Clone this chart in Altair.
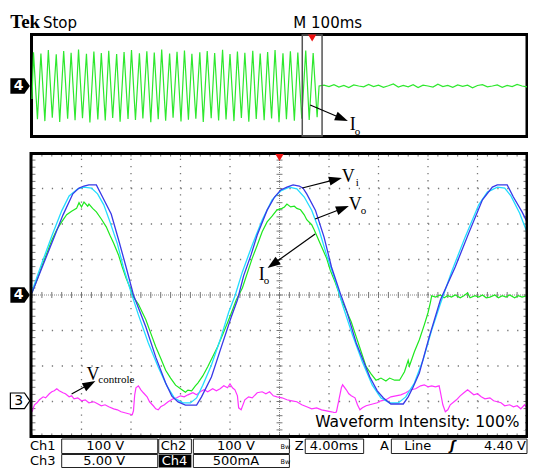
import math
import altair as alt
import pandas as pd
import numpy as np

# Main window: 4 ms/div. Ch1 = Vi, Ch2 = Vo (100 V/div), Ch3 = Vcontrole (5 V/div), Ch4 = Io (500 mA/div)
vi_t = [0.0,0.9,1.7,2.5,3.3,3.8,4.2,4.6,5.2,5.7,6.4,7.0,7.6,8.2,8.7,9.2,10.0,10.8,11.3,11.8,12.4,13.3,13.7,14.5,15.3,16.1,16.6,17.1,17.7,18.2,19.0,19.6,20.1,20.6,21.1,21.6,21.9,22.2,22.9,23.6,24.2,24.9,25.4,26.2,27.3,27.9,28.4,29.0,30.0,30.4,30.8,31.3,32.1,33.0,34.2,35.3,36.4,37.2,37.6,38.4,38.9,39.6,40.0]
vi_v = [6,85,155,225,285,301,307,310,310,276,228,155,79,0,-45,-90,-175,-248,-285,-301,-310,-310,-287,-231,-146,-62,-14,54,113,169,239,276,296,304,310,307,301,285,239,163,79,6,-42,-135,-231,-270,-290,-307,-307,-287,-259,-220,-118,-14,79,175,268,304,310,310,276,234,206]

vo_t = [0.0,0.8,1.6,2.4,3.0,3.7,4.2,4.8,5.3,5.8,6.3,6.9,7.4,8.0,8.6,9.4,10.2,10.9,11.5,12.2,12.8,13.3,13.8,14.5,15.2,15.9,16.4,17.0,17.8,18.6,19.4,20.1,20.8,21.4,22.0,22.6,23.2,23.8,24.5,25.1,25.9,26.7,27.5,28.2,28.9,29.6,30.2,30.9,31.6,32.3,33.0,33.9,35.0,36.1,36.8,37.6,38.2,38.7,39.4,40.0]
vo_v = [11,90,166,237,279,299,304,301,285,254,206,144,76,8,-56,-135,-203,-256,-290,-304,-304,-290,-254,-197,-127,-48,-3,65,141,211,268,293,304,299,276,239,183,113,42,-28,-113,-189,-254,-290,-304,-304,-287,-248,-183,-99,-25,65,163,254,290,304,301,279,231,177]

io_t = [0.0,0.4,0.8,1.2,1.6,2.0,2.4,2.8,3.2,3.6,3.8,4.0,4.2,4.5,4.6,4.9,5.2,5.6,6.0,6.3,
        6.6,7.0,7.3,7.6,8.0,8.2,8.6,9.2,9.6,10.0,10.4,10.8,11.2,11.6,12.0,12.4,12.6,12.9,13.2,13.4,
        13.8,14.2,14.6,15.0,15.4,15.8,16.2,16.5,17.0,17.4,17.8,18.2,18.6,19.0,19.4,19.8,20.2,20.4,20.6,20.9,
        21.2,21.4,21.7,22.0,22.2,22.6,22.8,23.1,23.4,23.8,24.1,24.5,24.8,25.0,25.3,25.8,26.2,26.6,27.0,27.4,
        27.8,28.2,28.6,28.9,29.3,29.7,30.1,30.4,30.5,30.9,31.3,31.7,32.0,32.2,32.3,
        32.6,33.0,33.3,33.6,33.9,34.2,34.6,34.9,35.2,35.4,35.8,36.1,36.4,36.7,37.0,37.4,37.7,38.0,38.3,38.6,39.0,39.3,39.6,40.0]
io_a = [0.03,0.21,0.41,0.59,0.77,0.92,1.03,1.13,1.18,1.22,1.30,1.24,1.31,1.25,1.28,1.22,1.17,1.07,0.96,0.84,
        0.73,0.56,0.39,0.24,0.07,-0.03,-0.13,-0.35,-0.54,-0.73,-0.89,-1.06,-1.17,-1.27,-1.32,-1.37,-1.34,-1.35,-1.28,-1.24,
        -1.14,-1.01,-0.87,-0.73,-0.56,-0.39,-0.21,-0.07,0.10,0.31,0.52,0.70,0.89,1.03,1.11,1.20,1.22,1.24,1.28,1.24,
        1.25,1.22,1.20,1.13,1.06,0.99,0.92,0.80,0.68,0.52,0.35,0.18,0.03,-0.07,-0.18,-0.38,-0.59,-0.80,-1.01,-1.11,
        -1.20,-1.17,-1.21,-1.17,-1.20,-1.20,-1.08,-0.92,-1.00,-0.80,-0.63,-0.42,-0.25,-0.10,-0.01,
        -0.03,0.0,-0.04,-0.01,-0.03,0.0,-0.04,-0.01,0.03,-0.04,-0.01,-0.03,0.0,-0.04,-0.03,0.0,-0.04,-0.01,-0.03,0.0,-0.04,-0.01,-0.03,-0.01]

vc_t = [0.0,0.2,0.4,0.6,0.9,1.1,1.4,1.6,1.8,2.0,2.2,2.5,2.7,3.0,3.2,3.4,3.7,4.0,4.3,4.6,
        5.0,5.3,5.6,5.9,6.2,6.6,6.9,7.2,7.5,7.8,8.1,8.2,8.3,8.4,8.6,8.8,9.0,9.3,9.5,9.8,
        10.0,10.2,10.4,10.7,11.0,11.4,11.7,12.0,12.3,12.6,13.0,13.3,13.6,13.9,14.2,14.6,14.9,15.2,15.5,15.8,
        16.0,16.2,16.4,16.6,16.7,16.9,17.2,17.5,17.8,18.2,18.6,18.9,19.2,19.5,19.8,20.2,20.6,21.0,21.4,21.8,
        22.2,22.6,23.0,23.4,23.8,24.2,24.5,24.6,24.8,25.0,25.1,25.4,25.6,25.8,26.1,26.3,26.5,26.7,27.0,27.3,
        27.6,27.9,28.2,28.6,29.0,29.4,29.8,30.2,30.6,31.0,31.4,31.7,32.0,32.3,32.6,32.9,33.0,33.2,33.4,33.6,
        33.8,34.1,34.3,34.6,34.9,35.2,35.4,35.7,36.0,36.3,36.6,37.0,37.3,37.6,37.9,38.2,38.6,38.9,39.2,39.5,39.8,40.0]
vc_v = [-1.55,-0.56,-0.28,0.14,0.56,0.42,0.99,1.27,1.41,1.69,1.41,1.13,0.99,0.56,0.70,0.28,0.42,0.0,0.14,-0.28,
        -0.14,-0.42,-0.70,-0.56,-0.84,-1.13,-1.27,-1.55,-1.69,-1.83,-1.97,-1.41,0.84,1.83,2.11,1.55,1.13,0.56,-0.14,-0.70,
        -1.13,-1.27,-0.84,-0.56,-0.14,0.28,0.42,0.70,0.56,0.84,1.13,0.84,1.27,1.55,1.27,1.69,1.41,1.69,2.11,1.83,
        2.39,1.83,1.55,0.70,-0.99,-1.27,0.14,0.56,0.42,1.13,1.27,0.99,1.27,0.70,0.56,0.42,0.14,0.0,-0.14,-0.56,
        -0.84,-1.13,-0.99,-1.27,-1.41,-1.55,-1.69,-1.55,0.14,1.83,2.25,1.55,0.99,0.70,0.42,-0.56,-1.27,-0.99,-0.70,-0.56,
        -0.42,-0.28,0.0,0.14,0.56,0.70,0.84,1.13,1.55,1.69,2.11,2.25,1.97,2.11,1.97,2.11,1.27,-0.56,-1.55,-1.27,
        -0.56,-0.14,0.14,0.70,1.13,1.55,1.27,0.84,0.99,0.56,0.28,0.42,0.0,-0.14,-0.28,-0.70,-0.56,-0.84,-0.70,-1.13,-0.56,-0.99]

# Overview record (100 ms/div, Ch4 = Io, 500 mA/div)
ov_peak_t = [3,18,33,49,64,79,94,110,125,140,155,171,186,201,217,232,247,262,278,293,308,323,339,354,369,385,400,415,430,446,461,476,491,507,522,537,553,568]
ov_peak_a = [1.30,1.25,1.38,1.22,1.35,1.28,1.40,1.24,1.33,1.27,1.36,1.23,1.31,1.38,1.26,1.34,1.29,1.40,1.25,1.32,1.37,1.24,1.30,1.35,1.27,1.39,1.23,1.33,1.28,1.36,1.25,1.31,1.38,1.26,1.34,1.29,1.37,1.27]
ov_trough_t = [11,26,41,56,72,87,102,117,133,148,163,178,194,209,224,240,255,270,285,301,316,331,346,362,377,392,408,423,438,453,469,484,499,514,530,545,560,576]
ov_trough_a = [-1.28,-1.35,-1.22,-1.38,-1.26,-1.32,-1.24,-1.40,-1.29,-1.33,-1.23,-1.37,-1.27,-1.31,-1.25,-1.39,-1.28,-1.34,-1.22,-1.36,-1.30,-1.26,-1.38,-1.24,-1.33,-1.29,-1.35,-1.23,-1.37,-1.27,-1.32,-1.25,-1.39,-1.28,-1.34,-1.26,-1.31,-1.20]
ov_flat_t = [580,590,600,610,620,630,640,650,660,670,680,690,700,710,720,730,740,750,760,770,780,790,800,810,820,830,840,850,860,870,880,890,900,910,920,930,940,950,960,970,980,990,1000]
ov_flat_a = [0.0,0.03,-0.02,0.05,-0.04,0.02,-0.06,0.04,0.0,-0.03,0.06,-0.02,0.03,-0.05,0.01,0.08,-0.04,0.02,-0.03,0.05,-0.06,0.03,0.0,-0.04,0.07,-0.02,0.02,-0.05,0.04,-0.01,0.03,-0.07,0.02,0.05,-0.03,0.0,0.04,-0.05,0.02,-0.02,0.06,0.0,-0.03]

# status bar
row1 = ["Ch1", "100 V", "Ch2", "100 V", "Z", "4.00ms", "A", "Line", "4.40 V"]
row2 = ["Ch3", "5.00 V", "Ch4", "500mA"]

# ---------------- scope settings ----------------
MS_DIV, V_DIV, A_DIV, VC_DIV = 4.0, 100.0, 0.5, 5.0
CH3_POS = -2.98          # divisions
OV_MS_DIV = 100.0
OV_CENTER = 5.887        # overview centre, in main divisions
OV_DIV = 0.366           # one overview division, in main divisions

# layout helpers: reference pixel -> graticule divisions
def X(p): return (p - 32) / 50.0
def Y(p): return (295 - p) / 35.5

PXDIV = 49.5             # horizontal pixels per division in this rendering
xs = alt.Scale(domain=[(8 - 32) / PXDIV, (528 - 32) / PXDIV], nice=False, zero=False)
ys = alt.Scale(domain=[Y(468), Y(8)], nice=False, zero=False)
ex = alt.X("x:Q", scale=xs, axis=None)
ey = alt.Y("y:Q", scale=ys, axis=None)

def trace(t, v, tdiv, vdiv, off=0.0):
    return pd.DataFrame({"x": np.array(t) / tdiv, "y": np.array(v) / vdiv + off,
                         "k": np.arange(len(t))})

vi = trace(vi_t, vi_v, MS_DIV, V_DIV)
vo = trace(vo_t, vo_v, MS_DIV, V_DIV)
io = trace(io_t, io_a, MS_DIV, A_DIV)
vc = trace(vc_t, vc_v, MS_DIV, VC_DIV, CH3_POS)

ov = pd.DataFrame({"t": [0] + ov_peak_t + ov_trough_t + ov_flat_t,
                   "a": [-0.5] + ov_peak_a + ov_trough_a + ov_flat_a}).sort_values("t")
ov_df = pd.DataFrame({"x": ov["t"].values / OV_MS_DIV,
                      "y": OV_CENTER + ov["a"].values / A_DIV * OV_DIV,
                      "k": np.arange(len(ov))})

def line(df, color, w):
    return alt.Chart(df).mark_line(color=color, strokeWidth=w).encode(x=ex, y=ey, order="k:Q")

def rects(rows, **kw):
    df = pd.DataFrame(rows, columns=["x", "x2", "y", "y2"])
    return alt.Chart(df).mark_rect(**kw).encode(x=ex, x2="x2:Q", y=ey, y2="y2:Q")

def rules(rows, **kw):
    df = pd.DataFrame(rows, columns=["x", "x2", "y", "y2"])
    return alt.Chart(df).mark_rule(**kw).encode(x=ex, x2="x2:Q", y=ey, y2="y2:Q")

def texts(rows, **kw):
    df = pd.DataFrame(rows, columns=["x", "y", "text"])
    df["x"] = df["x"].map(X); df["y"] = df["y"].map(Y)
    return alt.Chart(df).mark_text(**kw).encode(x=ex, y=ey, text="text:N")

layers = []

# ---- overview panel ----
layers.append(rects([[X(31.5), 10.0, Y(34.5), Y(136.5)]], fillOpacity=0, stroke="black", strokeWidth=3))
layers.append(line(ov_df, "#2ee82e", 1.2))
layers.append(rects([[546 / OV_MS_DIV, 586 / OV_MS_DIV, Y(35), Y(136)]], fillOpacity=0, stroke="#555555", strokeWidth=1.5))

# ---- graticule of the main panel ----
vgrid = [[d, d, -4, 4] for d in range(1, 10) if d != 5]
hgrid = [[0, 10, d, d] for d in range(-3, 4) if d != 0]
layers.append(rules(vgrid, color="#777777", strokeWidth=1.3, strokeDash=[1.3, 5.8]))
layers.append(rules(hgrid, color="#777777", strokeWidth=1.3, strokeDash=[1.3, 8.6]))
layers.append(rules([[5, 5, -4, 4], [0, 10, 0, 0]], color="#888888", strokeWidth=1, strokeDash=[1, 1]))
fx = np.round(np.arange(0, 10.001, 0.2), 3)
fy = np.round(np.arange(-4, 4.001, 0.2), 3)
ticks = []
ticks += [[v, v, -0.085, 0.085] for v in fx]
ticks += [[4.94, 5.06, v, v] for v in fy]
ticks += [[v, v, 4, 3.9] for v in fx] + [[v, v, -4, -3.9] for v in fx]
ticks += [[0, 0.07, v, v] for v in fy] + [[9.93, 10, v, v] for v in fy]
layers.append(rules(ticks, color="#777777", strokeWidth=1))

# ---- traces ----
layers.append(line(io, "#1ee81e", 1.2))
layers.append(line(vc, "#ff33ff", 1.2))
layers.append(line(vo, "#22ddff", 1.3))
layers.append(line(vi, "#3838e8", 1.3))

# ---- main border ----
layers.append(rects([[X(31), 10.0, Y(153.5), Y(436.5)]], fillOpacity=0, stroke="black", strokeWidth=3))

# ---- trigger markers ----
trig = pd.DataFrame({"x": [5.0, 566 / OV_MS_DIV], "y": [Y(157.5), Y(38)]})
layers.append(alt.Chart(trig).mark_point(shape="triangle-down", filled=True, color="#ee1111",
                                         size=70, opacity=1).encode(x=ex, y=ey))

# ---- channel markers ----
PENT = "M-1,-0.8L0.45,-0.8L1,0L0.45,0.8L-1,0.8Z"
m4 = pd.DataFrame({"x": [X(20), X(20)], "y": [0.0, OV_CENTER]})
layers.append(alt.Chart(m4).mark_point(shape=PENT, filled=True, color="black", size=380, opacity=1).encode(x=ex, y=ey))
m3 = pd.DataFrame({"x": [X(20)], "y": [CH3_POS]})
layers.append(alt.Chart(m3).mark_point(shape=PENT, filled=True, fill="white", stroke="black", strokeWidth=1.2,
                                       size=380, opacity=1).encode(x=ex, y=ey))
layers.append(alt.Chart(pd.DataFrame({"x": [X(18.5), X(18.5)], "y": [0.0, OV_CENTER], "text": ["4", "4"]}))
              .mark_text(font="DejaVu Sans", fontSize=14, fontWeight="bold", color="white")
              .encode(x=ex, y=ey, text="text:N"))
layers.append(alt.Chart(pd.DataFrame({"x": [X(18.5)], "y": [CH3_POS], "text": ["3"]}))
              .mark_text(font="DejaVu Sans", fontSize=14, color="black")
              .encode(x=ex, y=ey, text="text:N"))

# ---- annotation arrows ----
arrows = [(305, 188, 345, 178), (318, 219, 352, 206), (318, 234, 270, 268),
          (72, 394, 96, 381), (313, 105, 351, 121)]
shafts, heads = [], []
for x0, y0, x1, y1 in arrows:
    dx, dy = x1 - x0, y1 - y0
    L = math.hypot(dx, dy)
    ux, uy = dx / L, dy / L
    shafts.append([X(x0), X(x1 - ux * 9), Y(y0), Y(y1 - uy * 9)])
    ang = math.degrees(math.atan2(dx, -dy)) % 360
    heads.append({"x": X(x1 - ux * 6.5), "y": Y(y1 - uy * 6.5), "ang": ang})
layers.append(rules(shafts, color="black", strokeWidth=1.2))
layers.append(alt.Chart(pd.DataFrame(heads)).mark_point(shape="M0,-1L0.7,1L-0.7,1Z", filled=True, color="black",
                                                         size=169, opacity=1)
              .encode(x=ex, y=ey, angle=alt.Angle("ang:Q", scale=None)))

# ---- annotation labels ----
serif = dict(font="Liberation Serif", align="left", baseline="alphabetic", color="black")
layers.append(texts([[345, 182, "V"], [352, 210, "V"], [261, 280, "I"], [87, 380, "V"], [353, 130, "I"]],
                    fontSize=18, **serif))
layers.append(texts([[359, 186, "i"], [364, 214, "o"], [266, 284, "o"], [99, 383, "controle"], [358, 135, "o"]],
                    fontSize=11, **serif))

# ---- header ----
layers.append(texts([[10, 28, "Tek"]], font="Liberation Serif", fontSize=19, fontWeight="bold",
                    align="left", baseline="alphabetic"))
layers.append(texts([[43, 28, "Stop"], [296, 28, "M 100ms"]], font="DejaVu Sans", fontSize=15,
                    align="left", baseline="alphabetic"))

# ---- waveform intensity ----
layers.append(rects([[X(315), X(530), Y(413), Y(430)]], color="white"))
layers.append(texts([[318, 427, "Waveform Intensity: 100%"]], font="DejaVu Sans", fontSize=15.5,
                    align="left", baseline="alphabetic"))

# ---- status bar (two rows squeezed into the visible page) ----
R1T, R1B, R2T, R2B = 439, 453.5, 454.5, 467.5
boxes = [[62, 159, R1T, R1B], [160, 193, R1T, R1B], [195, 292, R1T, R1B], [308, 367, R1T, R1B],
         [395, 532, R1T, R1B], [62, 159, R2T, R2B], [195, 292, R2T, R2B]]
layers.append(rects([[X(a), X(b), Y(c), Y(d)] for a, b, c, d in boxes], fill="white", stroke="#222222", strokeWidth=1))
layers.append(rects([[X(160), X(193), Y(R2T), Y(R2B)]], color="black"))
st = dict(font="DejaVu Sans", fontSize=13, baseline="alphabetic", color="black")
B1, B2 = 450, 464.5
layers.append(texts([[30, B1, row1[0]], [162, B1, row1[2]], [408, B1, row1[7]], [30, B2, row2[0]]], align="left", **st))
layers.append(texts([[106, B1, row1[1]], [238, B1, row1[3]], [302, B1, row1[4]], [337, B1, row1[5]],
                     [388, B1, row1[6]], [105, B2, row2[1]], [238, B2, row2[3]]], align="center", **st))
layers.append(texts([[531, B1, row1[8]]], align="right", **st))
layers.append(texts([[163, B2, row2[2]]], align="left", font="DejaVu Sans", fontSize=13, baseline="alphabetic",
                    color="white"))
layers.append(texts([[457, B1, "ʃ"]], align="center", font="DejaVu Sans", fontSize=13, fontWeight="bold",
                    fontStyle="italic", baseline="alphabetic"))
layers.append(texts([[288, 449, "Bw"], [288, 463.5, "Bw"]], align="center", font="DejaVu Sans", fontSize=6.5,
                    baseline="alphabetic"))

chart = alt.layer(*layers).properties(
    width=520, height=460, padding=0, autosize=alt.AutoSizeParams(type="none"), background="white"
).configure_view(stroke=None)

chart.save("out.html", embed_options={"renderer": "svg", "actions": False})
